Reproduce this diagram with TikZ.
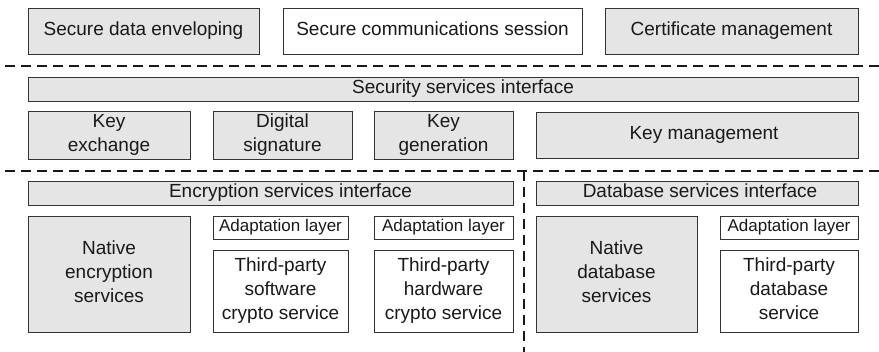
\documentclass[tikz,border=0pt]{standalone}
\usepackage{fontspec}
\setmainfont{Liberation Sans}
\begin{document}
\begin{tikzpicture}[x=1pt,y=-1pt,
  base/.style={draw=black!80, line width=0.9pt, inner sep=0pt,
     font=\fontsize{19}{24}\selectfont, text=black!90},
  gbox/.style={base, fill=black!10},
  wbox/.style={base, fill=white},
  small/.style={font=\fontsize{17}{20}\selectfont},
  sep/.style={line width=1.8pt, dash pattern=on 10pt off 6pt, draw=black!90}]
\useasboundingbox (0,0) rectangle (879,352);
\newcommand{\bx}[7]{\node[#1, minimum width=#4-#3, minimum height=#6-#5] (#2) at ({(#3+#4)/2},{(#5+#6)/2}) {\raisebox{-1.8pt}{\begin{tabular}{@{}c@{}}#7\end{tabular}}};}
% top row
\bx{gbox}{sde}{28}{259}{8}{54}{Secure data enveloping}
\bx{wbox}{scs}{283}{582}{8}{54}{Secure communications session}
\bx{gbox}{cm}{605}{858}{8}{54}{Certificate management}
% separators
\coordinate (l1a) at (5,66); \coordinate (l1b) at (879,66);
\draw[sep] (l1a) -- (l1b);
% middle
\bx{gbox}{ssi}{28}{858}{78}{100}{\hspace*{40pt}Security services interface}
\bx{gbox}{kx}{28}{190}{112}{158}{Key\\exchange}
\bx{gbox}{ds}{213}{352}{112}{158}{Digital\\signature}
\bx{gbox}{kg}{374}{513}{112}{158}{Key\\generation}
\bx{gbox}{km}{536}{858}{112}{158}{\hspace*{14pt}Key management}
\coordinate (l2a) at (5,171); \coordinate (l2b) at (879,171);
\draw[sep] (l2a) -- (l2b);
\coordinate (v1) at (524,171); \coordinate (v2) at (524,352);
\draw[sep] (v1) -- (v2);
% bottom
\bx{gbox}{esi}{28}{513}{182}{204}{\hspace*{40pt}Encryption services interface}
\bx{gbox}{dsi}{536}{858}{182}{204}{\hspace*{6pt}Database services interface}
\bx{gbox}{nes}{28}{190}{216}{332}{Native\\encryption\\services}
\bx{wbox,small}{al1}{213}{348}{216}{239}{Adaptation layer}
\bx{wbox}{tps}{213}{348}{250}{332}{Third-party\\software\\crypto service}
\bx{wbox,small}{al2}{374}{513}{216}{239}{Adaptation layer}
\bx{wbox}{tph}{374}{513}{250}{332}{Third-party\\hardware\\crypto service}
\bx{gbox}{nds}{536}{697}{216}{332}{Native\\database\\services}
\bx{wbox,small}{al3}{720}{858}{216}{239}{Adaptation layer}
\bx{wbox}{tpd}{720}{858}{250}{332}{Third-party\\database\\service}
\end{tikzpicture}
\end{document}
